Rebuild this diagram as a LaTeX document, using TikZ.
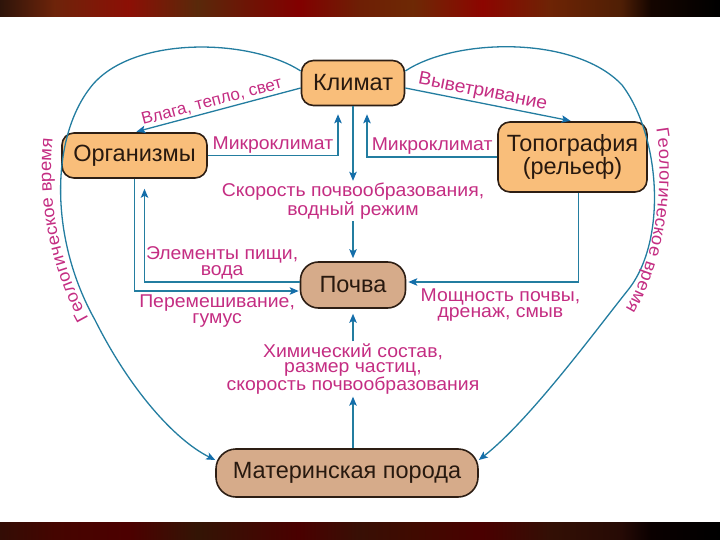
\documentclass[tikz,border=0pt]{standalone}
\usepackage{fontspec}
\setmainfont{Liberation Sans}
\newfontfamily\labelfont{Liberation Sans}[FakeStretch=1.05]
\usetikzlibrary{arrows.meta,decorations.text}

\definecolor{orangefill}{RGB}{249,190,122}
\definecolor{tanfill}{RGB}{214,171,138}
\definecolor{boxline}{RGB}{45,30,20}
\definecolor{nodetext}{RGB}{40,25,15}
\definecolor{linkblue}{RGB}{35,125,160}
\definecolor{tipblue}{RGB}{20,110,170}
\definecolor{labelpink}{RGB}{196,45,130}

\pgfdeclarehorizontalshading{topband}{100bp}{rgb(0bp)=(0.18,0.08,0.04); rgb(25bp)=(0.18,0.08,0.04);
  rgb(28.8bp)=(0.43,0.14,0.04); rgb(33.9bp)=(0.55,0.06,0.02); rgb(38.7bp)=(0.35,0.16,0.04);
  rgb(45.7bp)=(0.51,0,0); rgb(49.9bp)=(0.43,0.12,0.02); rgb(53.7bp)=(0.43,0.16,0.02);
  rgb(58.5bp)=(0.55,0.02,0); rgb(63.2bp)=(0.43,0.14,0.02); rgb(68.1bp)=(0.31,0.12,0.02);
  rgb(70.2bp)=(0.08,0.02,0); rgb(75bp)=(0,0,0); rgb(100bp)=(0,0,0)}
\pgfdeclarehorizontalshading{bottomband}{100bp}{rgb(0bp)=(0.2,0.05,0.02); rgb(25bp)=(0.2,0.05,0.02);
  rgb(28.8bp)=(0.27,0.02,0); rgb(33.9bp)=(0.3,0,0); rgb(38.7bp)=(0.2,0.08,0.02);
  rgb(45.7bp)=(0.29,0,0); rgb(49.9bp)=(0.22,0.06,0.02); rgb(53.7bp)=(0.25,0.04,0);
  rgb(58.5bp)=(0.29,0,0); rgb(63.2bp)=(0.2,0.06,0.02); rgb(68.1bp)=(0.15,0.04,0.02);
  rgb(70.2bp)=(0.04,0,0); rgb(75bp)=(0,0,0); rgb(100bp)=(0,0,0)}

\newcommand\geotime{\color{labelpink}\labelfont\fontsize{17.5}{17.5}\selectfont}

\tikzset{
  factor/.style={draw=boxline, line width=1.6pt, fill=orangefill, rounded corners=12pt,
    text=nodetext, font=\fontsize{23.5}{23}\selectfont, align=center, inner sep=2pt},
  ground/.style={factor, fill=tanfill, rounded corners=20pt},
  lbl/.style={text=labelpink, font=\labelfont\fontsize{18.5}{16}\selectfont, align=center, inner sep=2pt},
  link/.style={draw=linkblue, line width=1.3pt,
    -{Stealth[length=9pt, width=7.5pt, inset=2pt, color=tipblue]}},
  geo/.style={decorate, decoration={text along path, text align=center, raise=4pt,
    text={|\geotime|#1}}}
}

\begin{document}
\begin{tikzpicture}[x=1pt, y=-1pt]
\def \mainx {353}

\useasboundingbox (0,0) rectangle (720,540);
\shade[shading=topband] (0,0) rectangle (720,17);
\shade[shading=bottomband] (0,522) rectangle (720,540);

\node[factor, minimum width=103pt, minimum height=45pt] (klimat) at (\mainx,83) {Климат};
\node[factor, minimum width=145pt, minimum height=45pt] (org) at (134.5,155.5) {Организмы};
\node[factor, minimum width=149pt, minimum height=70pt] (topo) at (572.5,157) {Топография\\(рельеф)};
\node[ground, minimum width=105pt, minimum height=46pt, rounded corners=18pt] (pochva) at (\mainx,285) {Почва};
\node[ground, minimum width=262pt, minimum height=48pt] (mat) at (347,473) {Материнская порода};

\node[lbl] (rate) at (\mainx,201) {Скорость почвообразования,\\водный режим};
\node[lbl, font=\labelfont\fontsize{18.5}{15}\selectfont] (chem) at (\mainx,369) {Химический состав,\\размер частиц,\\скорость почвообразования};

\draw[link] ([yshift=12pt]klimat.west) .. controls (250,38) and (130,35) .. (90,88)
  .. controls (50,140) and (50,240) .. (95,320) .. controls (130,390) and (175,440) .. ([yshift=13pt]mat.west);
\draw[link] ([yshift=12pt]klimat.east) .. controls (455,38) and (575,35) .. (622,85)
  .. controls (660,135) and (668,240) .. (628,290) .. controls (596,330) and (530,420) .. ([yshift=13pt]mat.east);
\path[geo={Геологическое время}] (98,326) .. controls (58,262) and (50,185) .. (58,128);
\path[geo={Геологическое время}] (648,112) .. controls (662,150) and (660,260) .. (612,322);

\draw[link, shorten >=2pt] ([yshift=-5pt]klimat.west) -- (org.north)
  node[lbl, font=\fontsize{17}{17}\selectfont, pos=.52, above, sloped] (wet) {Влага, тепло, свет};
\draw[link, shorten >=2pt] ([yshift=-5pt]klimat.east) -- (topo.north)
  node[lbl, pos=.45, above, sloped] (weather) {Выветривание};

\draw[link, shorten >=8pt] (org.east) -| ([xshift=-15pt]klimat.south)
  node[lbl, pos=.25, above] (micro1) {Микроклимат};
\draw[link, shorten >=8pt] (topo.west) -| ([xshift=14pt]klimat.south)
  node[lbl, pos=.25, above] (micro2) {Микроклимат};

\draw[link] (klimat) -- (rate);
\draw[link, shorten >=3pt] (rate) -- (pochva);

\draw[link, shorten >=10pt] ([yshift=3pt]pochva.west) -| ([xshift=10pt]org.south)
  node[lbl, pos=.25, above] (food) {Элементы пищи,\\вода};
\draw[link, shorten >=1pt] (org.south) |- ([yshift=-6pt]pochva.west)
  node[lbl, pos=.75, below=1pt] (mix) {Перемешивание,\\гумус};
\draw[link, shorten >=2pt] ([xshift=6pt]topo.south) |- ([yshift=3pt]pochva.east)
  node[lbl, pos=.75, below=4pt, xshift=8pt] (depth) {Мощность почвы,\\дренаж, смыв};

\draw[link] (mat.north -| chem) -- (chem);
\draw[link, shorten >=5pt] (chem) -- (pochva);
\end{tikzpicture}
\end{document}
